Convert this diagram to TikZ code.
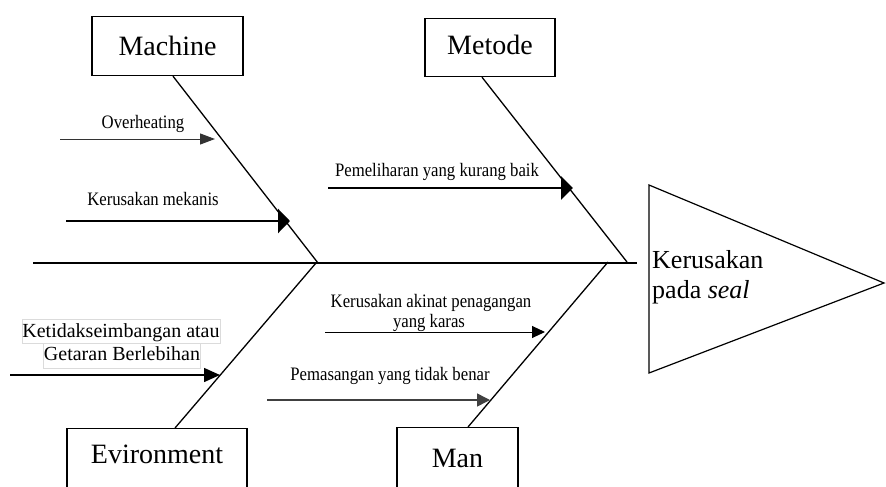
\documentclass[tikz,border=0pt]{standalone}
\usepackage{fontspec}
\usepackage{graphicx}
\setmainfont{Liberation Serif}
\usetikzlibrary{arrows.meta,calc}
\newcommand{\condtxt}[1]{\scalebox{0.88}[1]{#1}}
\begin{document}
\begin{tikzpicture}[x=1pt,y=-1pt,
  catbox/.style={draw, line width=1.2pt, font=\fontsize{28}{30}\selectfont, inner xsep=0pt, inner ysep=0pt, anchor=north},
  bone/.style={line width=1.3pt},
  lbl/.style={font=\fontsize{19}{20}\selectfont, inner sep=0pt, anchor=base},
  lblbig/.style={font=\fontsize{20}{21}\selectfont, inner xsep=0.5pt, inner ysep=0pt, anchor=base, draw=black!14, line width=0.6pt},
  headtxt/.style={font=\fontsize{26}{30}\selectfont, inner sep=0pt, anchor=base west},
  cause/.style={line width=1pt}]
\useasboundingbox (0,0) rectangle (886,487);
\clip (0,0) rectangle (886,487);

% category boxes
\node[catbox, minimum width=151pt, text height=39pt, text depth=20pt] (machine) at (167.5,16) {Machine};
\node[catbox, minimum width=130pt, text height=36pt, text depth=22pt] (metode) at (490,18) {Metode};
\node[catbox, minimum width=180pt, text height=35pt, text depth=40pt] (env) at (157,428) {Evironment};
\node[catbox, minimum width=121pt, text height=40pt, text depth=35pt] (man) at (457.5,427) {Man};

% spine and head
\coordinate (spL) at (33,263);
\coordinate (spR) at (637,263);
\draw[bone] (spL) -- (spR);
\draw[line width=1.2pt] (649,185) -- (884,283) -- (649,373) -- cycle;
\node[headtxt] (eff1) at (652,268) {Kerusakan};
\node[headtxt] (eff2) at (652,298) {pada \textit{seal}};

% bones
\coordinate (mj) at (318,263);
\coordinate (tj) at (627,262);
\coordinate (ej) at (316,263);
\coordinate (nj) at (608,262);
\draw[bone] ($(machine.south)+(5.5,0)$) -- (mj);
\draw[bone] ($(metode.south)+(-8,0)$) -- (tj);
\draw[bone] ($(env.north)+(18,0)$) -- (ej);
\draw[bone] ($(man.north)+(10.5,0)$) -- (nj);

% causes: Machine
\coordinate (a1s) at (60,139);  \coordinate (a1e) at (215,139);
\draw[cause, black!80, -{Triangle[length=15pt,width=11pt]}] (a1s) -- (a1e);
\node[lbl] (t1) at (143,128) {\condtxt{Overheating}};
\coordinate (a2s) at (66,221);  \coordinate (a2e) at (290,221);
\draw[cause, line width=2.5pt, -{Triangle[length=12pt,width=24pt]}] (a2s) -- (a2e);
\node[lbl] (t2) at (153,205) {\condtxt{Kerusakan mekanis}};

% causes: Metode
\coordinate (a3s) at (328,188);  \coordinate (a3e) at (573,188);
\draw[cause, line width=2.5pt, -{Triangle[length=12pt,width=23pt]}] (a3s) -- (a3e);
\node[lbl] (t3) at (437,176) {\condtxt{Pemeliharan yang kurang baik}};

% causes: Environment
\coordinate (a4s) at (10,375);  \coordinate (a4e) at (220,375);
\draw[cause, line width=1.5pt, -{Triangle[length=16pt,width=14pt]}] (a4s) -- (a4e);
\node[lblbig, text height=18pt, text depth=6pt] (t4a) at (121,337) {Ketidakseimbangan atau};
\node[lblbig, text height=17pt, text depth=8pt] (t4b) at (122,360) {Getaran Berlebihan};

% causes: Man
\coordinate (a5s) at (325,332);  \coordinate (a5e) at (545,332);
\draw[cause, -{Triangle[length=13pt,width=12pt]}] (a5s) -- (a5e);
\node[lbl] (t5a) at (431,307) {\condtxt{Kerusakan akinat penagangan}};
\node[lbl] (t5b) at (429,327) {\condtxt{yang karas}};
\coordinate (a6s) at (267,400);  \coordinate (a6e) at (490,400);
\draw[cause, line width=1.5pt, black!75, -{Triangle[length=13pt,width=13pt]}] (a6s) -- (a6e);
\node[lbl] (t6) at (390,380) {\condtxt{Pemasangan yang tidak benar}};
\end{tikzpicture}
\end{document}
